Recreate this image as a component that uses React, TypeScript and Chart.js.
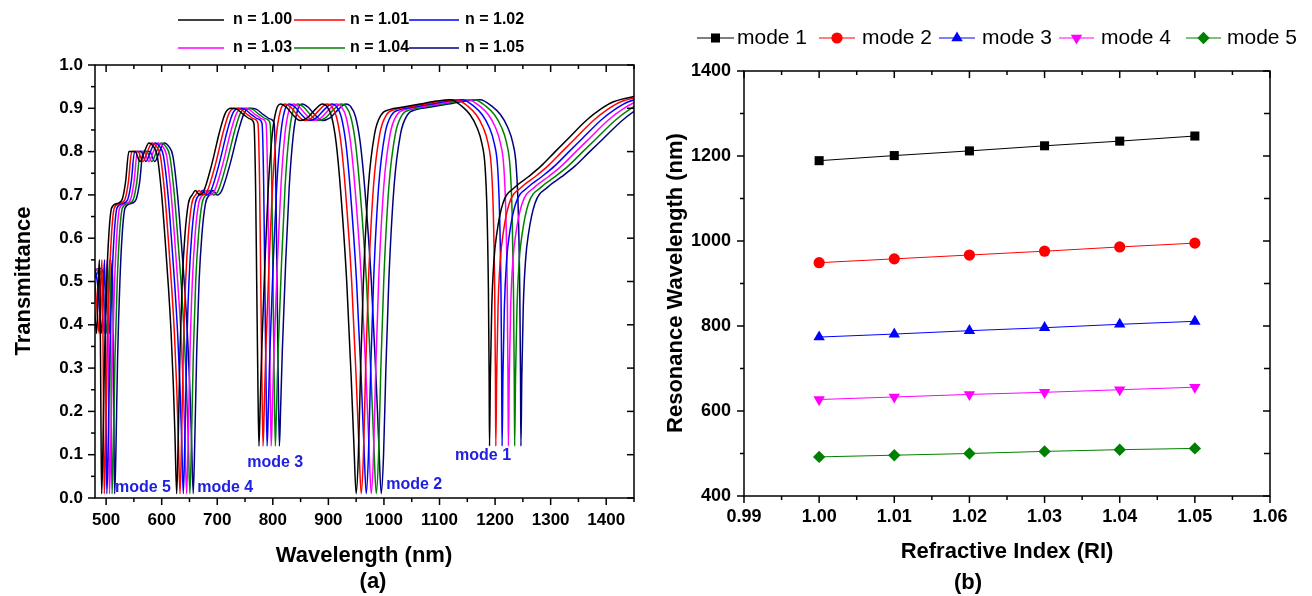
import React, { useEffect, useRef } from "react";
import { Chart, registerables } from "chart.js";

Chart.register(...registerables);

const FONT = '"Liberation Sans", Arial, Helvetica, sans-serif';

// ---------------- Panel (a): transmittance spectra ----------------
const WL_TICKS = [500, 600, 700, 800, 900, 1000, 1100, 1200, 1300, 1400];
const WL_MINOR = [550, 650, 750, 850, 950, 1050, 1150, 1250, 1350, 1450];
const T_TICKS = [0, 0.1, 0.2, 0.3, 0.4, 0.5, 0.6, 0.7, 0.8, 0.9, 1.0];
const T_MINOR = [0.05, 0.15, 0.25, 0.35, 0.45, 0.55, 0.65, 0.75, 0.85, 0.95];

const SERIES_LABELS = ["n = 1.00", "n = 1.01", "n = 1.02", "n = 1.03", "n = 1.04", "n = 1.05"];

// transmittance values shared by every spectrum (same shape, red-shifted)
const T_SHAPE = [
  0.5, 0.53, 0.5, 0.42, 0.38, 0.5, 0.55, 0.32, 0.12, 0.01,
  0.1, 0.32, 0.5, 0.61, 0.67, 0.68, 0.69, 0.73, 0.8, 0.8,
  0.777, 0.8, 0.82, 0.812, 0.79, 0.7, 0.6, 0.49, 0.38, 0.26,
  0.14, 0.01, 0.15, 0.34, 0.5, 0.61, 0.68, 0.7, 0.71, 0.7,
  0.71, 0.77, 0.85, 0.89, 0.9, 0.898, 0.885, 0.875, 0.865, 0.72,
  0.5, 0.28, 0.12, 0.2, 0.34, 0.55, 0.72, 0.84, 0.895, 0.91,
  0.903, 0.885, 0.872, 0.878, 0.897, 0.91, 0.905, 0.88, 0.82, 0.71,
  0.5, 0.28, 0.12, 0.01, 0.1, 0.3, 0.5, 0.72, 0.84, 0.885,
  0.897, 0.903, 0.91, 0.917, 0.92, 0.905, 0.885, 0.857, 0.82, 0.765,
  0.66, 0.48, 0.28, 0.12, 0.28, 0.44, 0.55, 0.61, 0.68, 0.718,
  0.742, 0.767, 0.797, 0.828, 0.873, 0.898, 0.915, 0.927, 0.935,
];

const WL_N100 = [
  455, 468, 475, 480, 483, 486, 488, 490, 491, 492,
  494, 497, 501, 505, 510, 520, 529, 535, 541, 552,
  561, 569, 577, 585, 592, 600, 606, 612, 617, 621,
  624, 627, 630, 633, 637, 642, 648, 655, 661, 668,
  676, 690, 705, 715, 725, 735, 748, 760, 766, 769,
  771, 773, 775, 777, 780, 786, 792, 799, 806, 814,
  824, 836, 849, 862, 876, 889, 897, 906, 914, 922,
  933, 941, 946, 950, 954, 958, 963, 972, 983, 995,
  1010, 1035, 1065, 1095, 1120, 1140, 1155, 1167, 1176, 1182,
  1185.5, 1188, 1189.3, 1190, 1191.5, 1194, 1198, 1203, 1214, 1236,
  1260, 1283, 1306, 1330, 1365, 1390, 1413, 1449, 1500,
];
const WL_N101 = [
  459.3, 472.4, 479.5, 484.6, 487.6, 490.6, 492.6, 494.7, 495.7, 496.7,
  498.7, 501.7, 505.8, 509.8, 514.8, 524.9, 534.0, 540.1, 546.1, 557.2,
  566.3, 574.4, 582.5, 590.6, 597.6, 605.7, 611.8, 617.8, 622.9, 626.9,
  629.9, 633.0, 636.0, 639.0, 643.1, 648.1, 654.2, 661.2, 667.3, 674.3,
  682.4, 696.6, 711.7, 721.8, 731.9, 742.0, 755.1, 767.2, 773.3, 776.3,
  778.3, 780.3, 782.4, 784.4, 787.4, 793.5, 799.5, 806.6, 813.7, 821.7,
  831.8, 843.9, 857.1, 870.2, 884.3, 897.4, 905.5, 914.6, 922.7, 930.8,
  941.9, 949.9, 955.0, 959.0, 963.1, 967.1, 972.1, 981.2, 992.3, 1004.5,
  1019.6, 1044.8, 1075.1, 1105.4, 1130.6, 1150.8, 1166.0, 1178.1, 1187.2, 1193.2,
  1196.8, 1199.3, 1200.6, 1201.3, 1202.8, 1205.3, 1209.4, 1214.4, 1225.5, 1247.7,
  1272.0, 1295.2, 1318.4, 1342.6, 1378.0, 1403.2, 1426.4, 1462.8, 1514.3,
];
const WL_N102 = [
  463.6, 476.9, 484.0, 489.1, 492.2, 495.2, 497.3, 499.3, 500.3, 501.3,
  503.4, 506.4, 510.5, 514.6, 519.7, 529.9, 539.1, 545.2, 551.3, 562.5,
  571.7, 579.8, 588.0, 596.1, 603.2, 611.4, 617.5, 623.6, 628.7, 632.8,
  635.9, 638.9, 642.0, 645.0, 649.1, 654.2, 660.3, 667.4, 673.6, 680.7,
  688.8, 703.1, 718.4, 728.6, 738.8, 749.0, 762.2, 774.4, 780.6, 783.6,
  785.6, 787.7, 789.7, 791.8, 794.8, 800.9, 807.0, 814.2, 821.3, 829.5,
  839.7, 851.9, 865.1, 878.4, 892.6, 905.9, 914.0, 923.2, 931.4, 939.5,
  950.7, 958.9, 964.0, 968.1, 972.1, 976.2, 981.3, 990.5, 1001.7, 1013.9,
  1029.2, 1054.7, 1085.2, 1115.8, 1141.3, 1161.7, 1176.9, 1189.2, 1198.3, 1204.5,
  1208.0, 1210.6, 1211.9, 1212.6, 1214.1, 1216.7, 1220.8, 1225.9, 1237.1, 1259.5,
  1283.9, 1307.4, 1330.8, 1355.3, 1390.9, 1416.4, 1439.8, 1476.5, 1528.5,
];
const WL_N103 = [
  468.0, 481.3, 488.5, 493.7, 496.8, 499.9, 501.9, 504.0, 505.0, 506.0,
  508.1, 511.2, 515.3, 519.4, 524.5, 534.8, 544.1, 550.2, 556.4, 567.7,
  577.0, 585.2, 593.4, 601.7, 608.9, 617.1, 623.3, 629.4, 634.6, 638.7,
  641.8, 644.9, 648.0, 651.0, 655.2, 660.3, 666.5, 673.7, 679.8, 687.0,
  695.3, 709.7, 725.1, 735.4, 745.7, 756.0, 769.3, 781.7, 787.8, 790.9,
  793.0, 795.0, 797.1, 799.1, 802.2, 808.4, 814.6, 821.8, 829.0, 837.2,
  847.5, 859.8, 873.2, 886.6, 901.0, 914.3, 922.6, 931.8, 940.0, 948.3,
  959.6, 967.8, 973.0, 977.1, 981.2, 985.3, 990.4, 999.7, 1011.0, 1023.4,
  1038.8, 1064.5, 1095.4, 1126.2, 1151.9, 1172.5, 1187.9, 1200.3, 1209.5, 1215.7,
  1219.3, 1221.9, 1223.2, 1223.9, 1225.5, 1228.0, 1232.1, 1237.3, 1248.6, 1271.2,
  1295.9, 1319.6, 1343.2, 1367.9, 1403.9, 1429.6, 1453.3, 1490.3, 1542.8,
];
const WL_N104 = [
  472.3, 485.8, 493.1, 498.2, 501.4, 504.5, 506.5, 508.6, 509.7, 510.7,
  512.8, 515.9, 520.0, 524.2, 529.4, 539.8, 549.1, 555.3, 561.6, 573.0,
  582.3, 590.6, 598.9, 607.2, 614.5, 622.8, 629.0, 635.3, 640.4, 644.6,
  647.7, 650.8, 653.9, 657.1, 661.2, 666.4, 672.6, 679.9, 686.1, 693.4,
  701.7, 716.2, 731.8, 742.2, 752.6, 762.9, 776.4, 788.9, 795.1, 798.2,
  800.3, 802.4, 804.5, 806.5, 809.6, 815.9, 822.1, 829.4, 836.6, 844.9,
  855.3, 867.8, 881.3, 894.8, 909.3, 922.8, 931.1, 940.4, 948.7, 957.0,
  968.5, 976.8, 981.9, 986.1, 990.3, 994.4, 999.6, 1008.9, 1020.4, 1032.8,
  1048.4, 1074.3, 1105.5, 1136.6, 1162.6, 1183.3, 1198.9, 1211.3, 1220.7, 1226.9,
  1230.6, 1233.1, 1234.5, 1235.2, 1236.8, 1239.4, 1243.5, 1248.7, 1260.1, 1283.0,
  1307.9, 1331.8, 1355.6, 1380.5, 1416.9, 1442.8, 1466.7, 1504.1, 1557.0,
];
const WL_N105 = [
  476.6, 490.2, 497.6, 502.8, 505.9, 509.1, 511.2, 513.3, 514.3, 515.4,
  517.5, 520.6, 524.8, 529.0, 534.2, 544.7, 554.1, 560.4, 566.7, 578.2,
  587.6, 596.0, 604.4, 612.8, 620.1, 628.5, 634.8, 641.1, 646.3, 650.5,
  653.6, 656.8, 659.9, 663.1, 667.3, 672.5, 678.8, 686.1, 692.4, 699.7,
  708.1, 722.8, 738.5, 748.9, 759.4, 769.9, 783.5, 796.1, 802.4, 805.5,
  807.6, 809.7, 811.8, 813.9, 817.1, 823.3, 829.6, 837.0, 844.3, 852.7,
  863.1, 875.7, 889.3, 903.0, 917.6, 931.2, 939.6, 949.0, 957.4, 965.8,
  977.3, 985.7, 990.9, 995.1, 999.3, 1003.5, 1008.7, 1018.2, 1029.7, 1042.3,
  1058.0, 1084.2, 1115.6, 1147.0, 1173.2, 1194.2, 1209.9, 1222.4, 1231.9, 1238.1,
  1241.8, 1244.4, 1245.8, 1246.5, 1248.1, 1250.7, 1254.9, 1260.1, 1271.7, 1294.7,
  1319.9, 1344.0, 1368.0, 1393.2, 1429.8, 1456.0, 1480.1, 1517.8, 1571.3,
];

const MODE_LABELS_A = ["mode 1", "mode 2", "mode 3", "mode 4", "mode 5"];
const MODE_LABEL_WL = [1128, 1004, 754, 664, 516];
const MODE_LABEL_T = [0.097, 0.032, 0.081, 0.025, 0.025];

// ---------------- Panel (b): resonance wavelength vs RI ----------------
const RI = [1.0, 1.01, 1.02, 1.03, 1.04, 1.05];
const RES_MODE1 = [1189, 1201, 1212, 1224, 1235, 1247];
const RES_MODE2 = [949, 958, 967, 976, 986, 995];
const RES_MODE3 = [774, 781, 789, 796, 804, 811];
const RES_MODE4 = [627, 633, 639, 644, 650, 656];
const RES_MODE5 = [492, 496, 500, 505, 509, 512];
const MODE_NAMES = ["mode 1", "mode 2", "mode 3", "mode 4", "mode 5"];
const RI_TICKS = [0.99, 1.0, 1.01, 1.02, 1.03, 1.04, 1.05, 1.06];
const RI_MINOR = [0.995, 1.005, 1.015, 1.025, 1.035, 1.045, 1.055];
const RW_TICKS = [400, 600, 800, 1000, 1200, 1400];
const RW_MINOR = [500, 700, 900, 1100, 1300];

// ---------------- styles ----------------
const SPECTRA = [WL_N100, WL_N101, WL_N102, WL_N103, WL_N104, WL_N105];
const SPECTRUM_COLORS = ["#000000", "#ff0000", "#0000ff", "#ff00ff", "#008000", "#000080"];
const MODE_SERIES = [RES_MODE1, RES_MODE2, RES_MODE3, RES_MODE4, RES_MODE5];
const MODE_COLORS = ["#000000", "#ff0000", "#0000ff", "#ff00ff", "#008000"];
const MODE_POINT = ["rect", "circle", "triangle", "triangle", "rectRot"];
const MODE_ROT = [0, 0, 0, 180, 0];
const MODE_RADIUS = [6.4, 5.6, 6.6, 6.6, 6.2];

function seg(ctx: CanvasRenderingContext2D, x1: number, y1: number, x2: number, y2: number) {
  ctx.beginPath();
  ctx.moveTo(x1, y1);
  ctx.lineTo(x2, y2);
  ctx.stroke();
}

function frameAndTicks(chart: any, xMajor: number[], xMinor: number[], yMajor: number[], yMinor: number[], rightMinor: boolean) {
  const ctx: CanvasRenderingContext2D = chart.ctx;
  const { left, right, top, bottom } = chart.chartArea;
  const xs = chart.scales.x;
  const ys = chart.scales.y;
  ctx.save();
  ctx.strokeStyle = "#000";
  ctx.lineWidth = 1.5;
  xMajor.forEach((v) => {
    const x = xs.getPixelForValue(v);
    seg(ctx, x, bottom, x, bottom + 7);
    seg(ctx, x, top, x, top + 7);
  });
  xMinor.forEach((v) => {
    const x = xs.getPixelForValue(v);
    if (x > right + 0.5) return;
    seg(ctx, x, bottom, x, bottom + 4);
    seg(ctx, x, top, x, top + 4);
  });
  yMajor.forEach((v) => {
    const y = ys.getPixelForValue(v);
    seg(ctx, left - 7, y, left, y);
    seg(ctx, right - 7, y, right, y);
  });
  yMinor.forEach((v) => {
    const y = ys.getPixelForValue(v);
    seg(ctx, left - 4, y, left, y);
    if (rightMinor) seg(ctx, right - 6, y, right, y);
  });
  ctx.strokeRect(left, top, right - left, bottom - top);
  ctx.restore();
}

function drawMarker(ctx: CanvasRenderingContext2D, style: string, x: number, y: number, r: number, rot: number) {
  ctx.beginPath();
  if (style === "rect") {
    const s = r * Math.SQRT1_2;
    ctx.rect(x - s, y - s, 2 * s, 2 * s);
  } else if (style === "circle") {
    ctx.arc(x, y, r, 0, Math.PI * 2);
  } else if (style === "triangle") {
    let a = (rot * Math.PI) / 180;
    ctx.moveTo(x + Math.sin(a) * r, y - Math.cos(a) * r);
    a += (2 * Math.PI) / 3;
    ctx.lineTo(x + Math.sin(a) * r, y - Math.cos(a) * r);
    a += (2 * Math.PI) / 3;
    ctx.lineTo(x + Math.sin(a) * r, y - Math.cos(a) * r);
    ctx.closePath();
  } else {
    ctx.moveTo(x, y - r);
    ctx.lineTo(x + r, y);
    ctx.lineTo(x, y + r);
    ctx.lineTo(x - r, y);
    ctx.closePath();
  }
  ctx.fill();
}

const annotA = {
  id: "annotA",
  afterDraw(chart: any) {
    frameAndTicks(chart, WL_TICKS, WL_MINOR, T_TICKS, T_MINOR, false);
    const ctx: CanvasRenderingContext2D = chart.ctx;
    const xs = chart.scales.x;
    const ys = chart.scales.y;
    ctx.save();
    ctx.fillStyle = "#000";
    ctx.font = `bold 22px ${FONT}`;
    ctx.textAlign = "center";
    ctx.textBaseline = "alphabetic";
    ctx.fillText("Wavelength (nm)", 364, 562);
    ctx.fillText("(a)", 373, 588);
    ctx.save();
    ctx.translate(30, 281);
    ctx.rotate(-Math.PI / 2);
    ctx.fillText("Transmittance", 0, 0);
    ctx.restore();

    // mode annotations
    ctx.font = `bold 16px ${FONT}`;
    ctx.fillStyle = "#2020e0";
    ctx.textAlign = "left";
    ctx.textBaseline = "middle";
    MODE_LABELS_A.forEach((t, i) => {
      ctx.fillText(t, xs.getPixelForValue(MODE_LABEL_WL[i]), ys.getPixelForValue(MODE_LABEL_T[i]));
    });

    // legend (two rows of three)
    const lineX = [[178, 224], [294, 345], [409, 459]];
    const textX = [233, 350, 465];
    const rowY = [20, 48];
    ctx.font = `bold 16px ${FONT}`;
    ctx.fillStyle = "#000";
    SERIES_LABELS.forEach((lab, i) => {
      const row = Math.floor(i / 3);
      const col = i % 3;
      ctx.strokeStyle = SPECTRUM_COLORS[i];
      ctx.lineWidth = 1.5;
      seg(ctx, lineX[col][0], rowY[row], lineX[col][1], rowY[row]);
      ctx.fillText(lab, textX[col], rowY[row]);
    });
    ctx.restore();
  },
};

const annotB = {
  id: "annotB",
  afterDraw(chart: any) {
    frameAndTicks(chart, RI_TICKS, RI_MINOR, RW_TICKS, RW_MINOR, true);
    const ctx: CanvasRenderingContext2D = chart.ctx;
    ctx.save();
    ctx.fillStyle = "#000";
    ctx.font = `bold 22px ${FONT}`;
    ctx.textAlign = "center";
    ctx.textBaseline = "alphabetic";
    ctx.fillText("Refractive Index (RI)", 347, 558);
    ctx.fillText("(b)", 308, 589);
    ctx.save();
    ctx.translate(22, 283);
    ctx.rotate(-Math.PI / 2);
    ctx.fillText("Resonance Wavelength (nm)", 0, 0);
    ctx.restore();

    // legend
    const lineX = [[37, 74], [159, 195], [279, 315], [399, 434], [526, 561]];
    const textX = [77, 202, 322, 441, 567];
    const y = 38;
    ctx.font = `21px ${FONT}`;
    ctx.textAlign = "left";
    ctx.textBaseline = "middle";
    MODE_NAMES.forEach((name, i) => {
      ctx.strokeStyle = MODE_COLORS[i];
      ctx.lineWidth = 1.2;
      seg(ctx, lineX[i][0], y, lineX[i][1], y);
      ctx.fillStyle = MODE_COLORS[i];
      drawMarker(ctx, MODE_POINT[i], (lineX[i][0] + lineX[i][1]) / 2, y, MODE_RADIUS[i], MODE_ROT[i]);
      ctx.fillStyle = "#000";
      ctx.fillText(name, textX[i], y);
    });
    ctx.restore();
  },
};

function cfgA(): any {
  const datasets = SPECTRA.map((wl, i) => ({
    label: SERIES_LABELS[i],
    data: wl.slice(0, T_SHAPE.length).map((x, j) => ({ x, y: T_SHAPE[j] })),
    borderColor: SPECTRUM_COLORS[i],
    backgroundColor: SPECTRUM_COLORS[i],
    borderWidth: 1.5,
    pointRadius: 0,
    cubicInterpolationMode: "monotone",
    fill: false,
  }));
  const tickFont = { family: FONT, size: 17, weight: "bold" };
  return {
    type: "line",
    data: { datasets },
    options: {
      animation: false,
      responsive: false,
      devicePixelRatio: 1,
      layout: { padding: { left: 0, top: 65, right: 26, bottom: 0 } },
      plugins: { legend: { display: false }, tooltip: { enabled: false } },
      events: [],
      scales: {
        x: {
          type: "linear",
          min: 480,
          max: 1450,
          afterFit: (s: any) => { s.height = 98; },
          afterBuildTicks: (s: any) => { s.ticks = WL_TICKS.map((v) => ({ value: v })); },
          grid: { display: false, drawTicks: false, tickLength: 0 },
          border: { display: false },
          ticks: { font: tickFont, color: "#000", padding: 12, autoSkip: false, maxRotation: 0, callback: (v: any) => String(v) },
        },
        y: {
          type: "linear",
          min: 0,
          max: 1,
          afterFit: (s: any) => { s.width = 95; },
          afterBuildTicks: (s: any) => { s.ticks = T_TICKS.map((v) => ({ value: v })); },
          grid: { display: false, drawTicks: false, tickLength: 0 },
          border: { display: false },
          ticks: { font: tickFont, color: "#000", padding: 12, autoSkip: false, callback: (v: any) => Number(v).toFixed(1) },
        },
      },
    },
    plugins: [annotA],
  };
}

function cfgB(): any {
  const datasets = MODE_SERIES.map((vals, i) => ({
    label: MODE_NAMES[i],
    data: RI.map((x, j) => ({ x, y: vals[j] })),
    borderColor: MODE_COLORS[i],
    backgroundColor: MODE_COLORS[i],
    borderWidth: 1,
    pointStyle: MODE_POINT[i],
    pointRotation: MODE_ROT[i],
    pointRadius: MODE_RADIUS[i],
    pointBorderWidth: 0,
    tension: 0,
    fill: false,
  }));
  const tickFont = { family: FONT, size: 18, weight: "bold" };
  return {
    type: "line",
    data: { datasets },
    options: {
      animation: false,
      responsive: false,
      devicePixelRatio: 1,
      layout: { padding: { left: 0, top: 71, right: 42, bottom: 0 } },
      plugins: { legend: { display: false }, tooltip: { enabled: false } },
      events: [],
      scales: {
        x: {
          type: "linear",
          min: 0.99,
          max: 1.06,
          afterFit: (s: any) => { s.height = 100; },
          afterBuildTicks: (s: any) => { s.ticks = RI_TICKS.map((v) => ({ value: v })); },
          grid: { display: false, drawTicks: false, tickLength: 0 },
          border: { display: false },
          ticks: { font: tickFont, color: "#000", padding: 10, autoSkip: false, maxRotation: 0, callback: (v: any) => Number(v).toFixed(2) },
        },
        y: {
          type: "linear",
          min: 400,
          max: 1400,
          afterFit: (s: any) => { s.width = 84; },
          afterBuildTicks: (s: any) => { s.ticks = RW_TICKS.map((v) => ({ value: v })); },
          grid: { display: false, drawTicks: false, tickLength: 0 },
          border: { display: false },
          ticks: { font: tickFont, color: "#000", padding: 13, autoSkip: false, callback: (v: any) => String(v) },
        },
      },
    },
    plugins: [annotB],
  };
}

export default function App() {
  const refA = useRef<HTMLCanvasElement>(null);
  const refB = useRef<HTMLCanvasElement>(null);
  useEffect(() => {
    const a = new Chart(refA.current as HTMLCanvasElement, cfgA());
    const b = new Chart(refB.current as HTMLCanvasElement, cfgB());
    return () => {
      a.destroy();
      b.destroy();
    };
  }, []);
  return (
    <div style={{ position: "absolute", left: 0, top: 0, width: 1312, height: 596, background: "#fff", overflow: "hidden" }}>
      <canvas ref={refA} width={660} height={596} style={{ position: "absolute", left: 0, top: 0, width: 660, height: 596 }} />
      <canvas ref={refB} width={652} height={596} style={{ position: "absolute", left: 660, top: 0, width: 652, height: 596 }} />
    </div>
  );
}
